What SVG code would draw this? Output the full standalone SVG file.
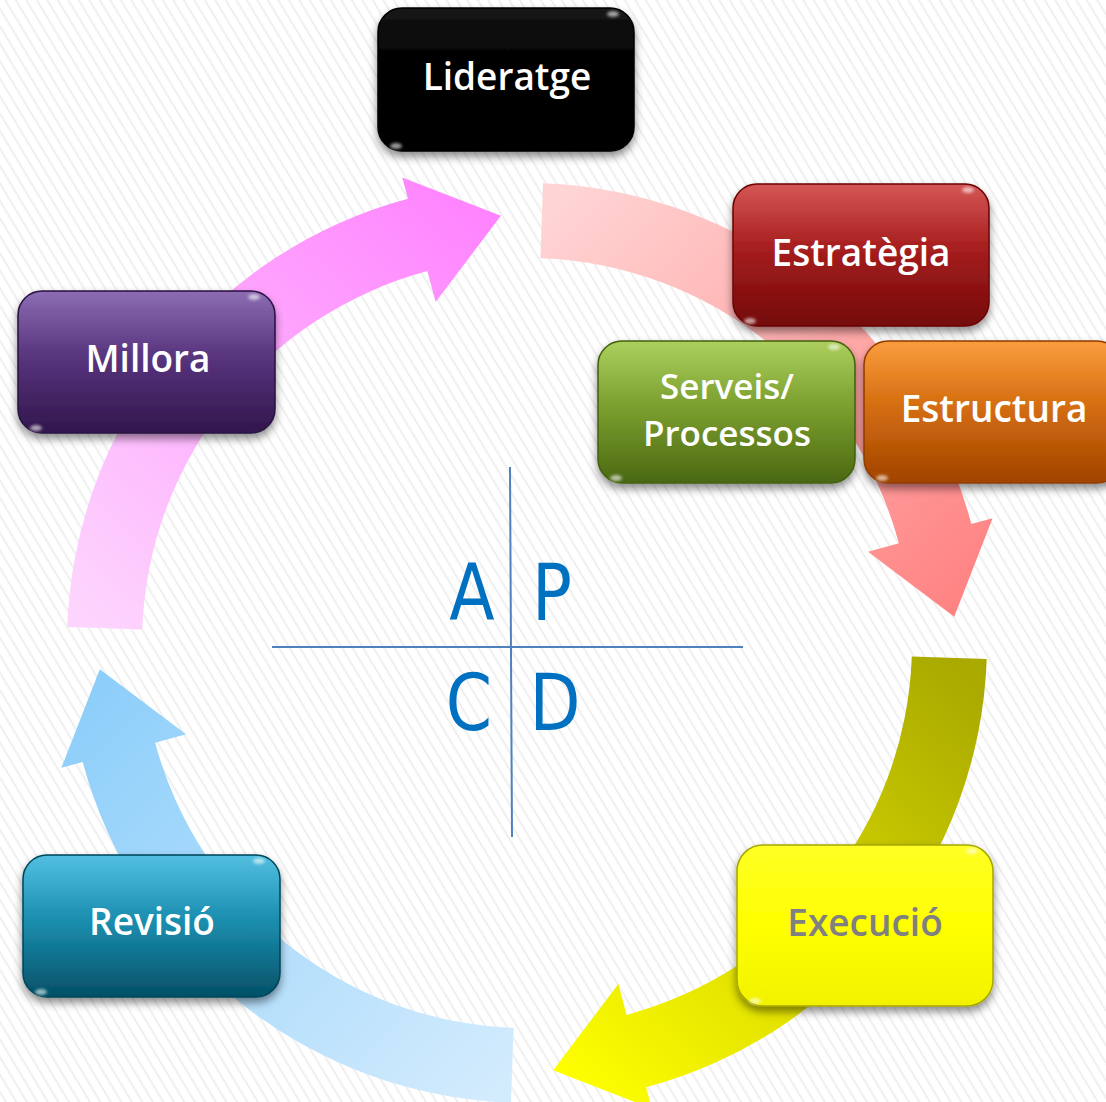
<svg xmlns="http://www.w3.org/2000/svg" width="1106" height="1102" viewBox="0 0 1106 1102">
<defs>
  <pattern id="hatch" width="9" height="20" patternUnits="userSpaceOnUse" patternTransform="rotate(-31)">
    <rect width="9" height="20" fill="#ffffff"/>
    <line x1="4.5" y1="-1" x2="4.5" y2="21" stroke="#ebebeb" stroke-width="1.6"/>
  </pattern>
  <filter id="shadow" x="-10%" y="-15%" width="120%" height="140%">
    <feDropShadow dx="0" dy="5" stdDeviation="4" flood-color="#000" flood-opacity="0.45"/>
  </filter>
  <filter id="blur1" x="-50%" y="-50%" width="200%" height="200%">
    <feGaussianBlur stdDeviation="1.5"/>
  </filter>
  <linearGradient id="gloss" x1="0" y1="0" x2="0" y2="1">
    <stop offset="0" stop-color="#fff" stop-opacity="0.12"/>
    <stop offset="0.4" stop-color="#fff" stop-opacity="0.02"/>
    <stop offset="1" stop-color="#fff" stop-opacity="0"/>
  </linearGradient>
  <linearGradient id="gBlack" x1="0" y1="0" x2="0" y2="1">
    <stop offset="0" stop-color="#161616"/><stop offset="0.35" stop-color="#030303"/><stop offset="1" stop-color="#000"/>
  </linearGradient>
  <linearGradient id="gRed" x1="0" y1="0" x2="0" y2="1">
    <stop offset="0" stop-color="#cf3e3e"/><stop offset="0.5" stop-color="#a11818"/><stop offset="1" stop-color="#740808"/>
  </linearGradient>
  <linearGradient id="gGreen" x1="0" y1="0" x2="0" y2="1">
    <stop offset="0" stop-color="#a0c848"/><stop offset="0.5" stop-color="#769a2a"/><stop offset="1" stop-color="#4b6811"/>
  </linearGradient>
  <linearGradient id="gOrange" x1="0" y1="0" x2="0" y2="1">
    <stop offset="0" stop-color="#f98f24"/><stop offset="0.5" stop-color="#d0680b"/><stop offset="1" stop-color="#a04300"/>
  </linearGradient>
  <linearGradient id="gPurple" x1="0" y1="0" x2="0" y2="1">
    <stop offset="0" stop-color="#7c58a8"/><stop offset="0.5" stop-color="#532f78"/><stop offset="1" stop-color="#31164c"/>
  </linearGradient>
  <linearGradient id="gTeal" x1="0" y1="0" x2="0" y2="1">
    <stop offset="0" stop-color="#3ab6dd"/><stop offset="0.5" stop-color="#1588a9"/><stop offset="1" stop-color="#045066"/>
  </linearGradient>
  <linearGradient id="gYellow" x1="0" y1="0" x2="0" y2="1">
    <stop offset="0" stop-color="#ffff26"/><stop offset="0.5" stop-color="#ffff00"/><stop offset="1" stop-color="#f2f200"/>
  </linearGradient>
  <linearGradient id="aOlive" gradientUnits="userSpaceOnUse" x1="422" y1="15" x2="26" y2="427">
    <stop offset="0" stop-color="#a9a900"/><stop offset="0.55" stop-color="#dada00"/><stop offset="1" stop-color="#ffff00"/>
  </linearGradient>
  <linearGradient id="aBlue" gradientUnits="userSpaceOnUse" x1="422" y1="15" x2="26" y2="427">
    <stop offset="0" stop-color="#d2ebfd"/><stop offset="1" stop-color="#8ccefa"/>
  </linearGradient>
  <linearGradient id="aPink" gradientUnits="userSpaceOnUse" x1="422" y1="15" x2="26" y2="427">
    <stop offset="0" stop-color="#fdd4fd"/><stop offset="1" stop-color="#ff82ff"/>
  </linearGradient>
  <linearGradient id="aRed" gradientUnits="userSpaceOnUse" x1="422" y1="15" x2="26" y2="427">
    <stop offset="0" stop-color="#ffd4d4"/><stop offset="1" stop-color="#ff8282"/>
  </linearGradient>
  <path id="arc" d="M 459.72 16.05 A 460 460 0 0 1 119.06 444.33 L 124.75 465.58 L 26.13 427.20 L 91.36 340.97 L 99.65 371.88 A 385 385 0 0 0 384.77 13.44 Z"/>
  <style>
    .box { stroke-width: 1.5; }
    .lbl { font-family: "Open Sans", "DejaVu Sans", sans-serif; font-weight: 600; font-size: 37px; fill: #ffffff; text-anchor: middle; }
    .lbl2 { font-size: 35px; }
    .spec { fill: #ffffff; opacity: 0.6; }
    .pdca { font-family: "DejaVu Sans", "Open Sans", sans-serif; font-size: 78px; fill: #0070c0; text-anchor: middle; }
    .axis { stroke: #4f81bd; stroke-width: 2; }
  </style>
</defs>

<rect width="1106" height="1102" fill="url(#hatch)"/>

<g id="connectors">
  <use href="#arc" fill="url(#aOlive)" transform="translate(527,643)"/>
  <use href="#arc" fill="url(#aBlue)" transform="translate(527,643) rotate(90)"/>
  <use href="#arc" fill="url(#aPink)" transform="translate(527,643) rotate(180)"/>
  <use href="#arc" fill="url(#aRed)" transform="translate(527,643) rotate(270)"/>
</g>

<g id="pdca">
  <line class="axis" x1="510" y1="467" x2="512" y2="837"/>
  <line class="axis" x1="272" y1="647" x2="743" y2="647"/>
  <g transform="translate(472,620) scale(0.85,1)"><text class="pdca">A</text></g>
  <g transform="translate(552,620) scale(0.85,1)"><text class="pdca">P</text></g>
  <g transform="translate(469,730) scale(0.85,1)"><text class="pdca">C</text></g>
  <g transform="translate(555,730) scale(0.85,1)"><text class="pdca">D</text></g>
</g>

<g id="node-lideratge">
  <rect class="box" x="378" y="8" width="256" height="143" rx="24" fill="url(#gBlack)" stroke="#000" filter="url(#shadow)"/>
  <ellipse class="spec" cx="613" cy="14" rx="6" ry="3" filter="url(#blur1)"/>
  <ellipse class="spec" cx="396" cy="146" rx="6" ry="3" filter="url(#blur1)"/>
  <text class="lbl" x="507" y="90">Lideratge</text>
</g>

<g id="node-estrategia">
  <rect class="box" x="733" y="184" width="256" height="142" rx="24" fill="url(#gRed)" stroke="#6a0606" filter="url(#shadow)"/>
  <rect x="734" y="185" width="254" height="140" rx="23" fill="url(#gloss)"/>
  <ellipse class="spec" cx="968" cy="190" rx="6" ry="3" filter="url(#blur1)"/>
  <ellipse class="spec" cx="750" cy="321" rx="6" ry="3" filter="url(#blur1)"/>
  <text class="lbl" x="861" y="266">Estratègia</text>
</g>

<g id="node-serveis">
  <rect class="box" x="598" y="341" width="257" height="142" rx="24" fill="url(#gGreen)" stroke="#43600c" filter="url(#shadow)"/>
  <rect x="599" y="342" width="255" height="140" rx="23" fill="url(#gloss)"/>
  <ellipse class="spec" cx="834" cy="347" rx="6" ry="3" filter="url(#blur1)"/>
  <ellipse class="spec" cx="616" cy="478" rx="6" ry="3" filter="url(#blur1)"/>
  <text class="lbl lbl2" x="727" y="399">Serveis/</text>
  <text class="lbl lbl2" x="727" y="446">Processos</text>
</g>

<g id="node-estructura">
  <rect class="box" x="864" y="341" width="257" height="142" rx="24" fill="url(#gOrange)" stroke="#8f3c00" filter="url(#shadow)"/>
  <rect x="865" y="342" width="255" height="140" rx="23" fill="url(#gloss)"/>
  <ellipse class="spec" cx="882" cy="478" rx="6" ry="3" filter="url(#blur1)"/>
  <text class="lbl" x="994" y="422">Estructura</text>
</g>

<g id="node-millora">
  <rect class="box" x="18" y="291" width="257" height="142" rx="24" fill="url(#gPurple)" stroke="#2a1242" filter="url(#shadow)"/>
  <rect x="19" y="292" width="255" height="140" rx="23" fill="url(#gloss)"/>
  <ellipse class="spec" cx="254" cy="297" rx="6" ry="3" filter="url(#blur1)"/>
  <ellipse class="spec" cx="36" cy="428" rx="6" ry="3" filter="url(#blur1)"/>
  <text class="lbl" x="148" y="372">Millora</text>
</g>

<g id="node-revisio">
  <rect class="box" x="23" y="855" width="257" height="142" rx="24" fill="url(#gTeal)" stroke="#03465a" filter="url(#shadow)"/>
  <rect x="24" y="856" width="255" height="140" rx="23" fill="url(#gloss)"/>
  <ellipse class="spec" cx="259" cy="861" rx="6" ry="3" filter="url(#blur1)"/>
  <ellipse class="spec" cx="41" cy="992" rx="6" ry="3" filter="url(#blur1)"/>
  <text class="lbl" x="152" y="935">Revisió</text>
</g>

<g id="node-execucio">
  <rect class="box" x="737" y="845" width="256" height="161" rx="26" fill="url(#gYellow)" stroke="#a6a600" filter="url(#shadow)"/>
  <ellipse class="spec" cx="972" cy="851" rx="6" ry="3" filter="url(#blur1)"/>
  <ellipse class="spec" cx="755" cy="1001" rx="6" ry="3" filter="url(#blur1)"/>
  <text class="lbl" x="865" y="936" style="fill:#808080">Execució</text>
</g>
</svg>
